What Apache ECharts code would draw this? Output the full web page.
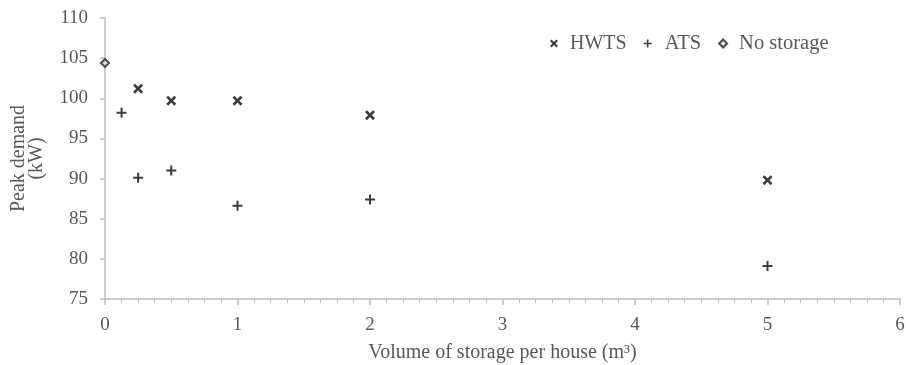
<!DOCTYPE html>
<html><head><meta charset="utf-8">
<script src="https://cdn.jsdelivr.net/npm/echarts@6/dist/echarts.min.js"></script>
<style>html,body{margin:0;padding:0;background:#fff}#c{width:906px;height:365px}</style>
</head><body><div id="c"></div>
<script>
const hwtsX = [0.25, 0.5, 1, 2, 5];
const hwtsY = [101.2, 99.7, 99.7, 97.9, 89.8];
const atsX = [0.125, 0.25, 0.5, 1, 2, 5];
const atsY = [98.2, 90.1, 91.0, 86.6, 87.4, 79.1];
const noX = [0];
const noY = [104.4];
const seriesNames = ['HWTS', 'ATS', 'No storage'];

const crossPath = 'path://M0,1.9L1.9,0L5,3.1L8.1,0L10,1.9L6.9,5L10,8.1L8.1,10L5,6.9L1.9,10L0,8.1L3.1,5Z';
const plusPath = 'path://M4,0H6V4H10V6H6V10H4V6H0V4H4Z';
const txt = '#595959';
const font = '"Liberation Serif","Times New Roman",serif';
const pair = (xs, ys) => xs.map((x, i) => [x, ys[i]]);

const chart = echarts.init(document.getElementById('c'), null, {renderer: 'canvas'});
chart.setOption({
  animation: false,
  textStyle: {fontFamily: font},
  grid: {left: 105, right: 6, top: 18, bottom: 66, outerBoundsMode: 'none', containLabel: false},
  legend: {
    top: 28, left: 545, itemGap: 17, itemWidth: 8, itemHeight: 8,
    textStyle: {color: txt, fontSize: 20, fontFamily: font, padding: [0, 0, 0, 7]},
    data: [
      {name: seriesNames[0], icon: crossPath},
      {name: seriesNames[1], icon: plusPath, textStyle: {padding: [0, 4, 0, 8], fontSize: 20.5}},
      {name: seriesNames[2], icon: 'diamond', textStyle: {fontSize: 20.5},
       itemStyle: {color: '#ddd', borderColor: '#222', borderWidth: 2}}
    ]
  },
  xAxis: {
    type: 'value', min: 0, max: 6, interval: 1,
    name: 'Volume of storage per house (m³)', nameLocation: 'middle', nameGap: 44,
    nameTextStyle: {color: txt, fontSize: 20, fontFamily: font},
    axisLine: {show: true, lineStyle: {color: '#bfbfbf', width: 1.5}},
    axisTick: {show: true, length: 6, lineStyle: {color: '#bfbfbf', width: 1.5}},
    minorTick: {show: true, splitNumber: 8, length: 4, lineStyle: {color: '#bfbfbf', width: 1}},
    axisLabel: {color: txt, fontSize: 19, margin: 17, fontFamily: font},
    splitLine: {show: false}
  },
  yAxis: {
    type: 'value', min: 75, max: 110, interval: 5,
    name: 'Peak demand\n(kW)', nameLocation: 'middle', nameGap: 59,
    nameTextStyle: {color: txt, fontSize: 20, fontFamily: font, lineHeight: 18},
    axisLine: {show: true, lineStyle: {color: '#bfbfbf', width: 1.5}},
    axisTick: {show: true, length: 5, lineStyle: {color: '#bfbfbf', width: 1.5}},
    axisLabel: {color: txt, fontSize: 19, margin: 17, fontFamily: font},
    splitLine: {show: false}
  },
  series: [
    {name: seriesNames[0], type: 'scatter', symbol: crossPath, symbolSize: 10,
     itemStyle: {color: '#0d0d0d'}, data: pair(hwtsX, hwtsY)},
    {name: seriesNames[1], type: 'scatter', symbol: plusPath, symbolSize: 10,
     itemStyle: {color: '#0d0d0d'}, data: pair(atsX, atsY)},
    {name: seriesNames[2], type: 'scatter', symbol: 'diamond', symbolSize: 8,
     itemStyle: {color: '#ddd', borderColor: '#222', borderWidth: 2}, data: pair(noX, noY)}
  ]
});
</script></body></html>
